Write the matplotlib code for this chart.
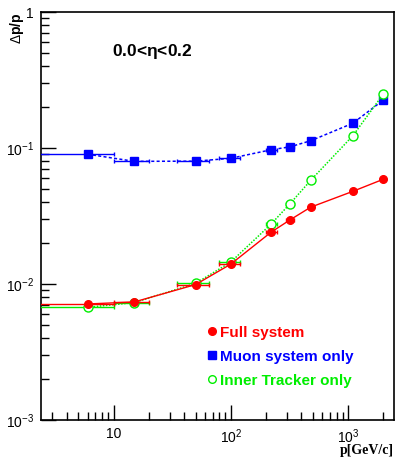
import numpy as np
import matplotlib
matplotlib.use("Agg")
import matplotlib.pyplot as plt
from matplotlib.lines import Line2D
from matplotlib.ticker import LogLocator, NullFormatter, FixedLocator

plt.rcParams['font.family'] = ['Liberation Sans', 'DejaVu Sans']
plt.rcParams['mathtext.fontset'] = 'custom'
plt.rcParams['mathtext.rm'] = 'Liberation Sans'
plt.rcParams['mathtext.it'] = 'Liberation Sans:italic'
plt.rcParams['mathtext.bf'] = 'Liberation Sans:bold'

# momentum points and horizontal error ranges [GeV/c]
p = [6, 15, 50, 100, 220, 320, 480, 1100, 2000]
p_lo = [2, 10, 35, 80, 200, 298, 465, 1080, 1970]
p_hi = [10, 20, 65, 120, 250, 345, 495, 1120, 2030]

full = [0.00713, 0.00738, 0.0099, 0.0140, 0.0240, 0.0296, 0.0367, 0.0480, 0.0589]
muon = [0.0900, 0.0798, 0.0800, 0.0840, 0.0970, 0.1020, 0.1130, 0.1520, 0.2250]
inner = [0.00674, 0.00730, 0.0101, 0.0145, 0.0275, 0.0389, 0.0578, 0.1230, 0.2490]

names = ['Full system', 'Muon system only', 'Inner Tracker only']
colors = ['#ff0000', '#0000ff', '#00ee00']

fig = plt.figure(figsize=(3.96, 4.57), dpi=100)
ax = fig.add_axes([41/396, 1-420/457, 353/396, 408/457])

pa = np.array(p, dtype=float)
xerr = [pa - np.array(p_lo), np.array(p_hi) - pa]

# muon (blue, dashed)
ax.errorbar(p, muon, xerr=xerr, fmt='s', color=colors[1], ms=5.5,
            elinewidth=1, capsize=1.5, ls=(0, (2, 1.5)), lw=1.1, zorder=3)
# inner tracker (green, dotted, open circles)
ax.errorbar(p, inner, xerr=xerr, fmt='o', color=colors[2], ms=6.5, mfc='white',
            mec=colors[2], mew=1, elinewidth=1, capsize=1.5, ls=(0, (1, 1)),
            lw=1.1, zorder=3)
# full system (red, solid)
ax.errorbar(p, full, xerr=xerr, fmt='o', color=colors[0], ms=5.5,
            elinewidth=1, capsize=1.5, ls='-', lw=1, zorder=4)

ax.set_xscale('log')
ax.set_yscale('log')
ax.set_xlim(2.4, 2470)
ax.set_ylim(1e-3, 1)

for s in ax.spines.values():
    s.set_linewidth(1.2)
ax.tick_params(which='both', direction='in', top=False, right=False,
               labelsize=10, pad=5)
ax.tick_params(which='major', length=11, width=1)
ax.tick_params(which='minor', length=6, width=1)
ax.xaxis.set_major_locator(FixedLocator([10, 100, 1000]))
ax.set_xticklabels(['10', r'$10^{2}$', r'$10^{3}$'])
ax.xaxis.set_minor_locator(LogLocator(base=10, subs=np.arange(2, 10)))
ax.xaxis.set_minor_formatter(NullFormatter())
ax.yaxis.set_major_locator(FixedLocator([1e-3, 1e-2, 1e-1, 1]))
ax.set_yticklabels([r'$10^{-3}$', r'$10^{-2}$', r'$10^{-1}$', '1'])
ax.yaxis.set_minor_locator(LogLocator(base=10, subs=np.arange(2, 10)))
ax.yaxis.set_minor_formatter(NullFormatter())

ax.text(0.2, 0.902, r'0.0<$\mathbf{\eta}$<0.2', transform=ax.transAxes,
        fontsize=12.5, fontweight='bold', ha='left', va='center')

handles = [
    Line2D([], [], ls='none', marker='o', color=colors[0], ms=5.5),
    Line2D([], [], ls='none', marker='s', color=colors[1], ms=5.5),
    Line2D([], [], ls='none', marker='o', mfc='white', mec=colors[2], ms=5.5, mew=1),
]
leg = ax.legend(handles, names, loc='upper left', bbox_to_anchor=(0.452, 0.25),
                frameon=False, handlelength=0.55, handletextpad=0.2,
                labelspacing=0.65, borderpad=0,
                prop={'weight': 'bold', 'size': 11})
for t, c in zip(leg.get_texts(), colors):
    t.set_color(c)

fig.text(17/396, 1-12/457, r'$\Delta$p/p', rotation=90, ha='center', va='top',
         fontsize=10, fontweight='bold')
fig.text(394/396, 0.0, 'p[GeV/c]', ha='right', va='bottom',
         fontsize=10, fontweight='bold', family=['Liberation Serif'])

fig.savefig('out.png', dpi=100)
